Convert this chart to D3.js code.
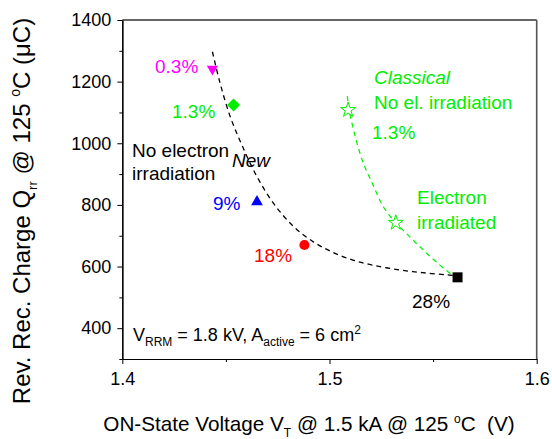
<!DOCTYPE html>
<html>
<head>
<meta charset="utf-8">
<script src="https://cdn.jsdelivr.net/npm/d3@7"></script>
<style>
  body { margin: 0; background: #fff; }
  text { font-family: "Liberation Sans", Arial, sans-serif; }
</style>
</head>
<body>
<div id="vis-holder"></div>
<script>
// measured points (V_T in V, Qrr in uC)
const labels = ["0.3%", "1.3%", "9%", "18%", "28%"];
const vt = [1.4435, 1.4537, 1.4650, 1.4879, 1.5618];
const qrr = [1241, 1124, 810, 670, 565];
const colors = ["#ff00ff", "#00ee00", "#0000ff", "#ff0000", "#000000"];
const shapes = ["triDown", "diamond", "triUp", "circle", "square"];

// classical (stars)
const starVt = [1.509, 1.532];
const starQrr = [1108, 742];

// dashed guide curves
const newFitX = [1.4435, 1.4470, 1.4520, 1.4580, 1.4649, 1.4730, 1.4826, 1.4920, 1.5010, 1.5113, 1.5220, 1.5340, 1.5450, 1.5565, 1.5610];
const newFitY = [1297, 1200, 1088, 990, 893, 805, 730, 681, 648, 621, 603, 589, 580, 573, 570];
const clsFitX = [1.5086, 1.5095, 1.5125, 1.5163, 1.5210, 1.5259, 1.5320, 1.5385, 1.5452, 1.5520, 1.5600];
const clsFitY = [1153, 1108, 1020, 936, 865, 795, 742, 698, 654, 612, 568];

const xTicks = [1.4, 1.5, 1.6];
const yTicks = [400, 600, 800, 1000, 1200, 1400];

const W = 552, H = 439;
const mLeft = 122.3, mRight = 536.7, mTop = 20, mBottom = 359;
const green = "#00ee00";

const svg = d3.select("#vis-holder").append("svg")
    .attr("width", W).attr("height", H);

const x = d3.scaleLinear().domain([1.4, 1.6]).range([mLeft, mRight]);
const y = d3.scaleLinear().domain([300, 1400]).range([mBottom, mTop]);

// frame top/right
svg.append("line").attr("x1", mLeft).attr("x2", mRight).attr("y1", mTop).attr("y2", mTop)
    .attr("stroke", "#333").attr("stroke-width", 1.4);
svg.append("line").attr("x1", mRight).attr("x2", mRight).attr("y1", mTop).attr("y2", mBottom)
    .attr("stroke", "#555").attr("stroke-width", 1.6);

// axes
const xAxis = d3.axisBottom(x).tickValues(xTicks).tickFormat(d3.format(".1f")).tickSizeInner(5).tickSizeOuter(0).tickPadding(8);
const xMinor = d3.axisBottom(x).tickValues([1.45, 1.55]).tickFormat("").tickSizeInner(3).tickSizeOuter(0);
const yAxis = d3.axisLeft(y).tickValues(yTicks).tickFormat(d3.format("d")).tickSizeInner(5).tickSizeOuter(0).tickPadding(6);
const yMinor = d3.axisLeft(y).tickValues([300, 500, 700, 900, 1100, 1300]).tickFormat("").tickSizeInner(3).tickSizeOuter(0);

function styleAxis(g) {
    g.select(".domain").attr("stroke", "#000").attr("stroke-width", 1.2);
    g.selectAll(".tick line").attr("stroke", "#000").attr("stroke-width", 1);
    g.selectAll(".tick text").attr("font-size", 18).attr("fill", "#000")
        .attr("font-family", "'Liberation Sans', Arial, sans-serif");
}

svg.append("g").attr("transform", `translate(0,${mBottom})`).call(xMinor).call(styleAxis);
svg.append("g").attr("transform", `translate(0,${mBottom})`).call(xAxis).call(styleAxis);
svg.append("g").attr("transform", `translate(${mLeft},0)`).call(yMinor).call(styleAxis);
svg.append("g").attr("transform", `translate(${mLeft},0)`).call(yAxis).call(styleAxis);

// guide curves
const line = d3.line().x(d => x(d[0])).y(d => y(d[1])).curve(d3.curveCatmullRom);
svg.append("path")
    .datum(d3.zip(newFitX, newFitY))
    .attr("d", line).attr("fill", "none")
    .attr("stroke", "#000").attr("stroke-width", 1.3).attr("stroke-dasharray", "5,4");
svg.append("path")
    .datum(d3.zip(clsFitX, clsFitY))
    .attr("d", line).attr("fill", "none")
    .attr("stroke", green).attr("stroke-width", 1.2).attr("stroke-dasharray", "5,4");

// markers
const symFor = {
    triDown: d3.symbol(d3.symbolTriangle, 55),
    triUp: d3.symbol(d3.symbolTriangle, 60),
    diamond: d3.symbol(d3.symbolSquare, 85),
    circle: d3.symbol(d3.symbolCircle, 80),
    square: d3.symbol(d3.symbolSquare, 100)
};
const rot = { triDown: 180, diamond: 45, triUp: 0, circle: 0, square: 0 };

svg.append("g").selectAll("path")
    .data(d3.range(vt.length))
    .enter().append("path")
    .attr("d", i => symFor[shapes[i]]())
    .attr("transform", i => `translate(${x(vt[i])},${y(qrr[i])}) rotate(${rot[shapes[i]]})`)
    .attr("fill", i => colors[i]);

svg.append("g").selectAll("path")
    .data(d3.range(starVt.length))
    .enter().append("path")
    .attr("d", d3.symbol(d3.symbolStar, 70))
    .attr("transform", i => `translate(${x(starVt[i])},${y(starQrr[i])})`)
    .attr("fill", "#fff").attr("stroke", green).attr("stroke-width", 1);

// annotations
function label(tx, ty, txt, color, italic) {
    return svg.append("text").attr("x", tx).attr("y", ty)
        .attr("font-size", 19).attr("fill", color)
        .attr("font-style", italic ? "italic" : "normal")
        .text(txt);
}
label(155, 72.5, labels[0], colors[0]);
label(172, 118, labels[1], colors[1]);
label(213, 209.5, labels[2], colors[2]);
label(254, 262, labels[3], colors[3]);
label(412, 308, labels[4], colors[4]);
label(132, 157, "No electron", "#000");
label(132, 180, "irradiation", "#000");
label(232, 167, "New", "#000", true);
label(374, 83.5, "Classical", green, true);
label(374, 108.5, "No el. irradiation", green);
label(372, 138.5, "1.3%", green);
label(417, 203.5, "Electron", green);
label(417, 228.5, "irradiated", green);

const note = svg.append("text").attr("x", 133).attr("y", 341).attr("font-size", 18).attr("fill", "#000");
note.append("tspan").text("V");
note.append("tspan").attr("font-size", 12).attr("dy", 5).text("RRM");
note.append("tspan").attr("dy", -5).text(" = 1.8 kV, A");
note.append("tspan").attr("font-size", 12).attr("dy", 5).text("active");
note.append("tspan").attr("dy", -5).text(" = 6 cm");
note.append("tspan").attr("font-size", 12).attr("dy", -7).text("2");

// axis titles
const xt = svg.append("text").attr("x", 309).attr("y", 431).attr("text-anchor", "middle")
    .attr("font-size", 20.7).attr("fill", "#000");
xt.append("tspan").text("ON-State Voltage V");
xt.append("tspan").attr("font-size", 12).attr("dy", 6).text("T");
xt.append("tspan").attr("dy", -6).text(" @ 1.5 kA @ 125 ");
xt.append("tspan").attr("font-size", 12).attr("dy", -8).text("o");
xt.append("tspan").attr("dy", 8).text("C\u00a0 (V)");

const yt = svg.append("text").attr("transform", "translate(30,211) rotate(-90)")
    .attr("text-anchor", "middle").attr("font-size", 24).attr("fill", "#000");
yt.append("tspan").text("Rev. Rec. Charge Q");
yt.append("tspan").attr("font-size", 13).attr("dy", 7).text("rr");
yt.append("tspan").attr("dy", -7).text(" @ 125 ");
yt.append("tspan").attr("font-size", 14).attr("dy", -10).text("o");
yt.append("tspan").attr("dy", 10).text("C (\u03bcC)");
</script>
</body>
</html>
